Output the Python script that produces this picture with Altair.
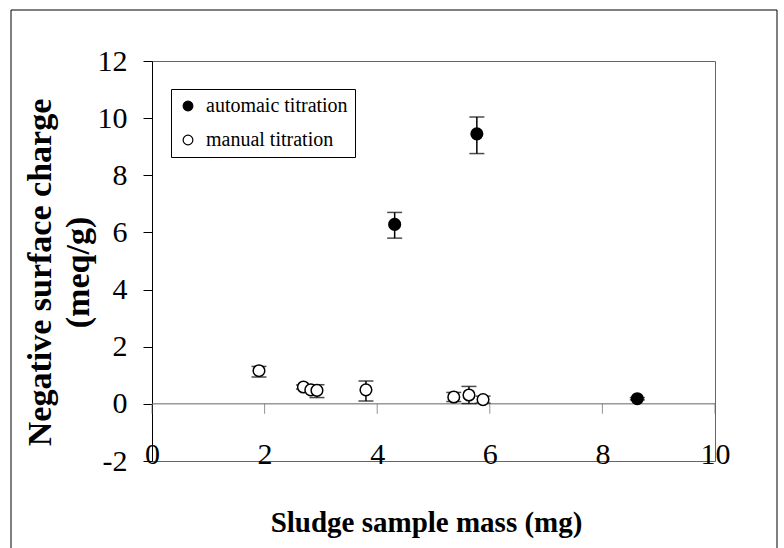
import altair as alt
import pandas as pd

# ---- data ----
series_names = ["automaic titration", "manual titration"]

auto_x = [4.31, 5.77, 8.62]
auto_y = [6.28, 9.45, 0.18]
auto_lo = [5.80, 8.76, 0.14]
auto_hi = [6.70, 10.04, 0.22]

manual_x = [1.90, 2.69, 2.82, 2.93, 3.80, 5.36, 5.63, 5.88]
manual_y = [1.16, 0.59, 0.49, 0.47, 0.49, 0.24, 0.31, 0.15]
manual_lo = [0.94, 0.52, 0.42, 0.22, 0.10, 0.08, 0.01, 0.03]
manual_hi = [1.31, 0.66, 0.56, 0.67, 0.80, 0.40, 0.61, 0.27]

x_ticks = [0, 2, 4, 6, 8, 10]
y_ticks = [-2, 0, 2, 4, 6, 8, 10, 12]

x_title = "Sludge sample mass (mg)"
y_title = ["Negative surface charge", "(meq/g)"]

# ---- tables ----
rows = []
for x, y, lo, hi in zip(auto_x, auto_y, auto_lo, auto_hi):
    rows.append({"x": x, "y": y, "lo": lo, "hi": hi, "series": series_names[0]})
for x, y, lo, hi in zip(manual_x, manual_y, manual_lo, manual_hi):
    rows.append({"x": x, "y": y, "lo": lo, "hi": hi, "series": series_names[1]})
df = pd.DataFrame(rows)
tick_df = pd.DataFrame({"x": x_ticks, "y": [0] * len(x_ticks)})

FONT = "Liberation Serif"
xscale = alt.Scale(domain=[0, 10], nice=False, zero=False)
yscale = alt.Scale(domain=[-2, 12], nice=False, zero=False)

x_axis = alt.Axis(
    orient="bottom", values=x_ticks, domain=False, ticks=False, tickSize=0,
    grid=False, labelFont=FONT, labelFontSize=30, labelColor="black",
    labelBaseline="middle", labelPadding=-7, labelFlush=False, labelOverlap=False,
    labelExpr="'' + datum.value",
    titleFont=FONT, titleFontSize=29, titleFontWeight="bold", titleColor="black",
    titleX=274, titleY=70, titleBaseline="alphabetic", titleAlign="center",
)
y_axis = alt.Axis(
    orient="left", values=y_ticks, domain=True, domainColor="black", domainWidth=1,
    ticks=True, tickColor="black", tickSize=9, tickWidth=1, grid=False,
    labelFont=FONT, labelFontSize=30, labelColor="black", labelPadding=16,
    labelFlush=False, labelOverlap=False, labelExpr="'' + datum.value",
    titleFont=FONT, titleFontSize=34, titleFontWeight="bold", titleColor="black",
    titleLineHeight=38, titleX=-102, titleY=211, titleBaseline="alphabetic",
    titleAlign="center", titleAngle=270,
)

base = alt.Chart(df)

# outer figure border (decoration)
border = alt.Chart(pd.DataFrame({"a": [0]})).mark_rect(
    filled=False, stroke="black", strokeWidth=1
).encode(x=alt.value(-141), x2=alt.value(625), y=alt.value(-51), y2=alt.value(499))

zero_rule = alt.Chart(pd.DataFrame({"y": [0]})).mark_rule(
    color="#666", strokeWidth=1
).encode(y=alt.Y("y:Q", scale=yscale, title=y_title))

x_tick_marks = alt.Chart(tick_df).mark_tick(
    orient="vertical", size=10, thickness=1, yOffset=5, color="#666"
).encode(
    x=alt.X("x:Q", scale=xscale, title=x_title),
    y=alt.Y("y:Q", scale=yscale, title=y_title),
)

err_rules = base.mark_rule(color="black", strokeWidth=1.5).encode(
    x=alt.X("x:Q", scale=xscale, title=x_title),
    y=alt.Y("lo:Q", scale=yscale, title=y_title),
    y2="hi:Q",
)

caps = base.transform_fold(["lo", "hi"], as_=["which", "v"]).mark_tick(
    orient="horizontal", size=15, thickness=1.5, color="black"
).encode(
    x=alt.X("x:Q", scale=xscale, title=x_title),
    y=alt.Y("v:Q", scale=yscale, title=y_title),
)

points = base.mark_circle(
    size=135, stroke="black", strokeWidth=1.5, opacity=1, fillOpacity=1
).encode(
    x=alt.X("x:Q", scale=xscale, axis=x_axis, title=x_title),
    y=alt.Y("y:Q", scale=yscale, axis=y_axis, title=y_title),
    fill=alt.Fill(
        "series:N",
        scale=alt.Scale(domain=series_names, range=["black", "white"]),
        legend=alt.Legend(
            title=None, orient="none", legendX=19, legendY=28,
            labelFont=FONT, labelFontSize=20, labelColor="black",
            symbolType="circle", symbolSize=95, symbolStrokeColor="black",
            symbolStrokeWidth=1.2, symbolOpacity=1,
            strokeColor="black", fillColor="white", padding=7,
            rowPadding=14, labelOffset=8, cornerRadius=0,
        ),
    ),
)

chart = alt.layer(border, zero_rule, x_tick_marks, err_rules, caps, points).properties(
    width=563,
    height=400,
    autosize=alt.AutoSizeParams(type="none"),
    padding={"left": 152, "top": 61, "right": 69, "bottom": 87},
    background="white",
).configure_view(stroke="#666", strokeWidth=1)

chart.save("out.html", embed_options={"renderer": "svg", "actions": False})
